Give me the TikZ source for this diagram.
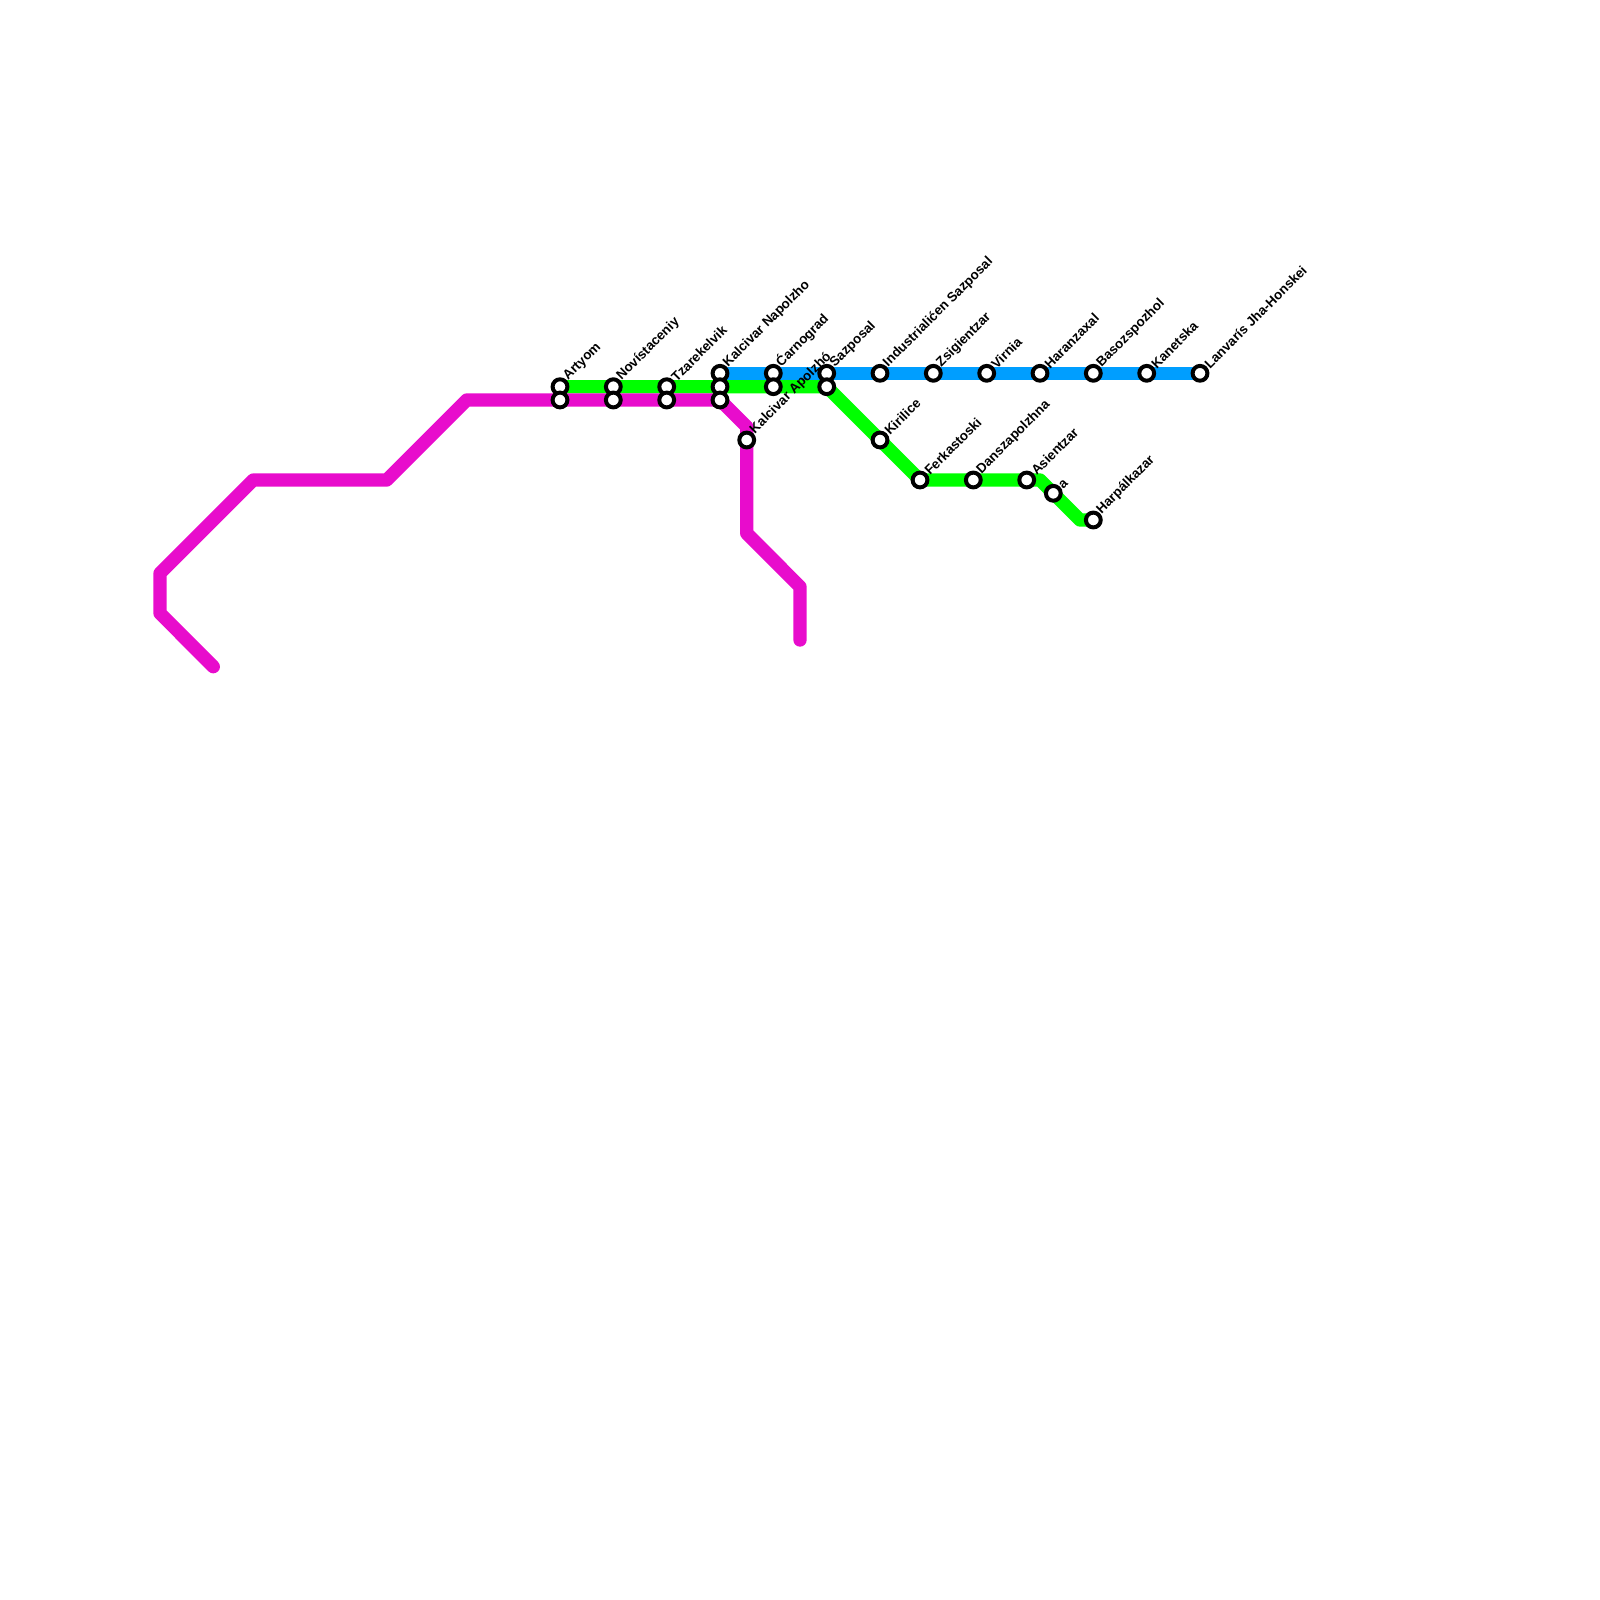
\documentclass[tikz,border=0pt]{standalone}
\usepackage{fontspec}
\setmainfont{Liberation Sans}
\usetikzlibrary{backgrounds}
\definecolor{linem}{RGB}{232,12,204}
\definecolor{lineg}{RGB}{0,255,0}
\definecolor{lineb}{RGB}{0,158,255}
\tikzset{
    mystation/.style = {circle, draw=black, line width=0.04cm, fill=white, inner sep=0pt, minimum size=0.148cm},
    mylabel/.style = {rotate=45, anchor=south west, inner sep=0pt, xshift=0.093cm, yshift=-0.051cm, font=\bfseries\fontsize{3.8pt}{4.5pt}\selectfont, text=black},
    edgeline/.style = {line width=0.133cm, line join=round, line cap=round},
    edgem/.style = {edgeline, color=linem},
    edgeg/.style = {edgeline, color=lineg},
    edgeb/.style = {edgeline, color=lineb}
}
\begin{document}
\begin{tikzpicture}[x=0.01cm,y=-0.01cm]
  \useasboundingbox (0,0) rectangle (1600,1600);
  % bends
  \coordinate (m0) at (213.3,666.7);
  \coordinate (m1) at (160,613.3);
  \coordinate (m2) at (160,573.3);
  \coordinate (m3) at (253.3,480);
  \coordinate (m4) at (386.7,480);
  \coordinate (m5) at (466.7,400);
  \coordinate (m6) at (746.7,426.7);
  \coordinate (m7) at (746.7,533.3);
  \coordinate (m8) at (800,586.7);
  \coordinate (m9) at (800,640);
  \coordinate (g1) at (826.7,386.7);
  \coordinate (g2) at (1040,480);
  \coordinate (g3) at (1080,520);
  % stations
  \node[mystation] (artyomg) at (560,386.7) {};
  \node[mystation] (artyomm) at (560,400) {};
  \node[mystation] (novig) at (613.3,386.7) {};
  \node[mystation] (novim) at (613.3,400) {};
  \node[mystation] (tzag) at (666.7,386.7) {};
  \node[mystation] (tzam) at (666.7,400) {};
  \node[mystation] (kalb) at (720,373.3) {};
  \node[mystation] (kalg) at (720,386.7) {};
  \node[mystation] (kalm) at (720,400) {};
  \node[mystation] (apo) at (746.7,440) {};
  \node[mystation] (carb) at (773.3,373.3) {};
  \node[mystation] (carg) at (773.3,386.7) {};
  \node[mystation] (sazb) at (826.7,373.3) {};
  \node[mystation] (sazg) at (826.7,386.7) {};
  \node[mystation] (ind) at (880,373.3) {};
  \node[mystation] (zsi) at (933.3,373.3) {};
  \node[mystation] (vir) at (986.7,373.3) {};
  \node[mystation] (har) at (1040,373.3) {};
  \node[mystation] (bas) at (1093.3,373.3) {};
  \node[mystation] (kan) at (1146.7,373.3) {};
  \node[mystation] (lan) at (1200,373.3) {};
  \node[mystation] (kir) at (880,440) {};
  \node[mystation] (fer) at (920,480) {};
  \node[mystation] (dan) at (973.3,480) {};
  \node[mystation] (asi) at (1026.7,480) {};
  \node[mystation] (aa) at (1053.3,493.3) {};
  \node[mystation] (hrp) at (1093.3,520) {};
  % lines
  \begin{pgfonlayer}{background}
    \draw[edgeb] (kalb.center) -- (lan.center);
    \draw[edgeg] (artyomg.center) -- (g1) -- (fer.center) -- (g2) -- (g3) -- (hrp.center);
    \draw[edgem] (m0) -- (m1) -- (m2) -- (m3) -- (m4) -- (m5) -- (kalm.center) -- (m6) -- (m7) -- (m8) -- (m9);
  \end{pgfonlayer}
  % labels
  \node[mylabel] (lartyom) at (artyomg.center) {Artyom};
  \node[mylabel] (lnovi) at (novig.center) {Novístaceniy};
  \node[mylabel] (ltza) at (tzag.center) {Tzarekelvik};
  \node[mylabel] (lkal) at (kalb.center) {Kalcivar Napolzho};
  \node[mylabel] (lapo) at (apo.center) {Kalcivar Apolzhó};
  \node[mylabel] (lcar) at (carb.center) {Ćarnograd};
  \node[mylabel] (lsaz) at (sazb.center) {Sazposal};
  \node[mylabel] (lind) at (ind.center) {Industrialićen Sazposal};
  \node[mylabel] (lzsi) at (zsi.center) {Zsigientzar};
  \node[mylabel] (lvir) at (vir.center) {Virnia};
  \node[mylabel] (lhar) at (har.center) {Haranzaxal};
  \node[mylabel] (lbas) at (bas.center) {Basozspozhol};
  \node[mylabel] (lkan) at (kan.center) {Kanetska};
  \node[mylabel] (llan) at (lan.center) {Lanvarís Jha-Honskei};
  \node[mylabel] (lkir) at (kir.center) {Kirilice};
  \node[mylabel] (lfer) at (fer.center) {Ferkastoski};
  \node[mylabel] (ldan) at (dan.center) {Danszapolzhna};
  \node[mylabel] (lasi) at (asi.center) {Asientzar};
  \node[mylabel] (laa) at (aa.center) {a};
  \node[mylabel] (lhrp) at (hrp.center) {Harpálkazar};
\end{tikzpicture}
\end{document}
